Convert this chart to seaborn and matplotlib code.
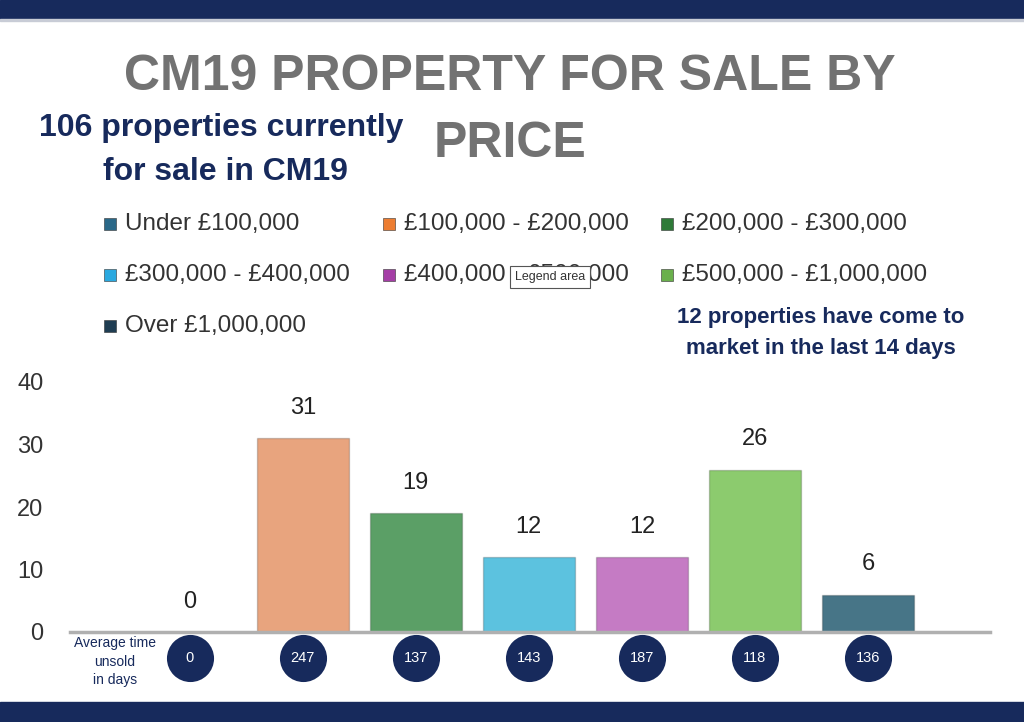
import pandas as pd
import seaborn as sns
import matplotlib.pyplot as plt
from matplotlib.patches import Rectangle

# data
price_bands = ['Under £100,000', '£100,000 - £200,000', '£200,000 - £300,000',
               '£300,000 - £400,000', '£400,000 - £500,000', '£500,000 - £1,000,000',
               'Over £1,000,000']
properties = [0, 31, 19, 12, 12, 26, 6]
days_unsold = [0, 247, 137, 143, 187, 118, 136]
bar_colors = ['#2c6a8a', '#e8a47e', '#5b9f66', '#5cc2df', '#c57bc4', '#8ccb6e', '#477587']
legend_colors = ['#2a6888', '#ed7d31', '#2e7a38', '#2aa9e0', '#a53ea6', '#6ab04c', '#1f3d52']

NAVY = '#172a5c'

df = pd.DataFrame({'band': price_bands, 'count': properties})

sns.set_theme(style='white')
plt.rcParams['font.family'] = ['Liberation Sans', 'DejaVu Sans']

fig = plt.figure(figsize=(10.24, 7.22), dpi=100)
W, H = 1024, 722


def fx(px):
    return px / W


def fy(py):
    return 1 - py / H


# navy bands top and bottom
fig.patches.append(Rectangle((0, fy(19)), 1, 19 / H, transform=fig.transFigure,
                             color=NAVY, zorder=0))
fig.patches.append(Rectangle((0, 0), 1, 20 / H, transform=fig.transFigure,
                             color=NAVY, zorder=0))
fig.patches.append(Rectangle((0, fy(21)), 1, 2 / H, transform=fig.transFigure,
                             color='#c8ccd6', zorder=0))

# titles
fig.text(fx(510), fy(77), 'CM19 PROPERTY FOR SALE BY', ha='center', va='center',
         fontsize=36, fontweight='bold', color='#727272')
fig.text(fx(510), fy(144), 'PRICE', ha='center', va='center',
         fontsize=36, fontweight='bold', color='#727272')
fig.text(fx(221), fy(128), '106 properties currently', ha='center', va='center',
         fontsize=23, fontweight='bold', color=NAVY)
fig.text(fx(225), fy(172), 'for sale in CM19', ha='center', va='center',
         fontsize=23, fontweight='bold', color=NAVY)
fig.text(fx(821), fy(318), '12 properties have come to', ha='center', va='center',
         fontsize=16, fontweight='bold', color=NAVY)
fig.text(fx(821), fy(348), 'market in the last 14 days', ha='center', va='center',
         fontsize=16, fontweight='bold', color=NAVY)

# legend, row-major in three columns
col_x = [104, 383, 661]
row_y = [224, 275, 326]
for i, (lab, c) in enumerate(zip(price_bands, legend_colors)):
    x0 = col_x[i % 3]
    y0 = row_y[i // 3]
    fig.patches.append(Rectangle((fx(x0), fy(y0 + 6)), 12 / W, 12 / H,
                                 transform=fig.transFigure, facecolor=c,
                                 edgecolor='#333333', linewidth=0.4))
    fig.text(fx(x0 + 21), fy(y0), lab, ha='left', va='center',
             fontsize=17.5, color='#333333')

# tooltip left over in the screenshot
fig.text(fx(550), fy(277), 'Legend area', ha='center', va='center', fontsize=9,
         color='#333333', zorder=10,
         bbox=dict(boxstyle='square,pad=0.4', facecolor='white', edgecolor='#555555',
                   linewidth=0.8))

# bar chart
ax = fig.add_axes([fx(70), fy(632), 920 / W, 250 / H])
sns.barplot(data=df, x='band', y='count', hue='band', palette=bar_colors,
            saturation=1, width=0.81, legend=False, ax=ax,
            edgecolor='#00000030', linewidth=1)
ax.set_xlim(-1.06, 7.08)
ax.set_ylim(0, 40)
ax.set_yticks([0, 10, 20, 30, 40])
ax.tick_params(axis='y', labelsize=17, labelcolor='#333333', pad=19, length=0)
ax.set_xticks([])
ax.set_xlabel('')
ax.set_ylabel('')
for s in ['top', 'right', 'left']:
    ax.spines[s].set_visible(False)
ax.spines['bottom'].set_color('#b0b0b0')
ax.spines['bottom'].set_linewidth(2.5)

for container in ax.containers:
    ax.bar_label(container, padding=14, fontsize=17, color='#222222')

# average days unsold in navy circles below the bars
circle_y = -4.1
ax.scatter(range(len(days_unsold)), [circle_y] * len(days_unsold), s=1150,
           color=NAVY, clip_on=False, zorder=5, linewidths=0)
for i, d in enumerate(days_unsold):
    ax.text(i, circle_y, str(d), ha='center', va='center', fontsize=10.5,
            color='white', zorder=6, clip_on=False)

fig.text(fx(115), fy(643), 'Average time', ha='center', va='center', fontsize=10, color=NAVY)
fig.text(fx(115), fy(662), 'unsold', ha='center', va='center', fontsize=10, color=NAVY)
fig.text(fx(115), fy(680), 'in days', ha='center', va='center', fontsize=10, color=NAVY)

fig.savefig('out.png', dpi=100)
